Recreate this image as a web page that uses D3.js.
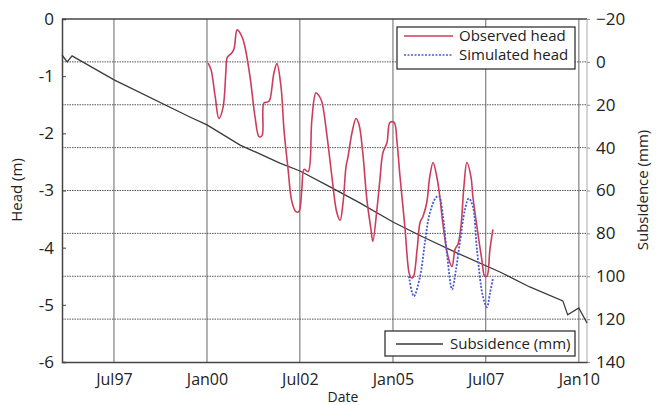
<!DOCTYPE html>
<html>
<head>
<meta charset="utf-8">
<script src="https://cdn.jsdelivr.net/npm/d3@7/dist/d3.min.js"></script>
<style>
  html, body { margin: 0; padding: 0; background: #fff; }
  svg { display: block; font-family: "Open Sans", "Noto Sans", sans-serif; }
</style>
</head>
<body>
<svg id="chart" width="661" height="405"></svg>
<script>
// Observed groundwater head (decimal year, metres)
const obsYears = [2000.03, 2000.11, 2000.22, 2000.32, 2000.43, 2000.51, 2000.54, 2000.67, 2000.73, 2000.81,
  2000.94, 2001.02, 2001.16, 2001.29, 2001.40, 2001.48, 2001.53, 2001.64, 2001.69, 2001.80,
  2001.88, 2001.99, 2002.07, 2002.18, 2002.28, 2002.39, 2002.47, 2002.55, 2002.61, 2002.72,
  2002.82, 2002.93, 2003.01, 2003.09, 2003.23, 2003.36, 2003.49, 2003.58, 2003.66, 2003.74,
  2003.79, 2003.90, 2004.01, 2004.09, 2004.19, 2004.30, 2004.41, 2004.46, 2004.57, 2004.65,
  2004.73, 2004.84, 2004.92, 2005.03, 2005.11, 2005.19, 2005.32, 2005.43, 2005.48, 2005.54,
  2005.65, 2005.73, 2005.81, 2005.91, 2005.99, 2006.08, 2006.18, 2006.26, 2006.34, 2006.48,
  2006.59, 2006.67, 2006.75, 2006.83, 2006.91, 2006.99, 2007.10, 2007.15, 2007.26, 2007.39,
  2007.47, 2007.53, 2007.61, 2007.69];
const obsHead = [-0.77, -0.89, -1.36, -1.74, -1.55, -0.89, -0.68, -0.59, -0.51, -0.19,
  -0.31, -0.49, -1.03, -1.71, -2.06, -2.04, -1.47, -1.45, -1.41, -0.94,
  -0.78, -1.19, -1.94, -2.63, -3.19, -3.37, -3.37, -2.98, -2.63, -2.67,
  -1.76, -1.29, -1.34, -1.45, -2.06, -2.76, -3.38, -3.52, -3.21, -2.58,
  -2.42, -1.99, -1.74, -1.85, -2.34, -3.16, -3.68, -3.89, -3.33, -2.81,
  -2.34, -2.16, -1.81, -1.81, -2.16, -2.76, -3.63, -4.43, -4.52, -4.52,
  -4.03, -3.56, -3.45, -3.21, -2.76, -2.51, -2.76, -3.10, -3.56, -4.15,
  -4.33, -4.03, -3.94, -3.63, -2.93, -2.51, -2.76, -3.10, -3.63, -4.20,
  -4.50, -4.50, -4.03, -3.68];

// Simulated head (decimal year, metres)
const simYears = [2005.43, 2005.56, 2005.73, 2005.86, 2005.99, 2006.16, 2006.24, 2006.34, 2006.45, 2006.59,
  2006.69, 2006.80, 2006.94, 2007.04, 2007.15, 2007.26, 2007.42, 2007.53, 2007.61, 2007.69];
const simHead = [-4.50, -4.85, -4.50, -3.91, -3.40, -3.12, -3.10, -3.42, -4.08, -4.73,
  -4.41, -3.91, -3.33, -3.14, -3.28, -4.03, -4.85, -5.04, -4.80, -4.54];

// Cumulative subsidence (decimal year, millimetres)
const subYears = [1996.10, 1996.24, 1996.37, 1997.50, 1999.54, 2000.00, 2000.89, 2001.96, 2002.50, 2003.31,
  2004.11, 2005.00, 2005.81, 2006.72, 2007.88, 2008.68, 2009.57, 2009.70, 2010.00, 2010.22];
const subMm = [-3.2, 0.0, -2.8, 8.4, 25.7, 29.4, 38.8, 47.2, 50.9, 58.3,
  65.8, 74.7, 81.7, 89.1, 98.0, 105.0, 111.5, 118.0, 114.8, 121.8];

// Axis ticks
const dateTicks = ["1997-07-01", "2000-01-01", "2002-07-01", "2005-01-01", "2007-07-01", "2010-01-01"];
const dateTickLabels = ["Jul97", "Jan00", "Jul02", "Jan05", "Jul07", "Jan10"];
const headTicks = [0, -1, -2, -3, -4, -5, -6];
const subTicks = [-20, 0, 20, 40, 60, 80, 100, 120, 140];

function toDate(y) {
  const yr = Math.floor(y);
  const start = new Date(yr, 0, 1).getTime();
  const end = new Date(yr + 1, 0, 1).getTime();
  return new Date(start + (y - yr) * (end - start));
}
function parseDay(s) {
  const p = s.split("-").map(Number);
  return new Date(p[0], p[1] - 1, p[2]);
}

const svg = d3.select("#chart");
const plotL = 62, plotR = 587, plotT = 19, plotB = 362;

const x = d3.scaleTime().domain([toDate(1996.10), toDate(2010.22)]).range([plotL, plotR]);
const yHead = d3.scaleLinear().domain([0, -6]).range([plotT, plotB]);
const ySub = d3.scaleLinear().domain([-20, 140]).range([plotT, plotB]);

// Vertical grid lines at date ticks
svg.append("g").selectAll("line").data(dateTicks).join("line")
  .attr("x1", d => x(parseDay(d))).attr("x2", d => x(parseDay(d)))
  .attr("y1", plotT).attr("y2", plotB)
  .attr("stroke", "#8a8a8a").attr("stroke-width", 1.3);

// Horizontal dotted grid lines at subsidence ticks
svg.append("g").selectAll("line").data(subTicks.filter(t => t > -20 && t < 140)).join("line")
  .attr("x1", plotL).attr("x2", plotR)
  .attr("y1", d => ySub(d)).attr("y2", d => ySub(d))
  .attr("stroke", "#555").attr("stroke-width", 1).attr("stroke-dasharray", "1.5,1");

// Frame
svg.append("line").attr("x1", plotL).attr("x2", plotR).attr("y1", plotT).attr("y2", plotT)
  .attr("stroke", "#444").attr("stroke-width", 1.3);
svg.append("line").attr("x1", plotR).attr("x2", plotR).attr("y1", plotT).attr("y2", plotB)
  .attr("stroke", "#aaa").attr("stroke-width", 1);

// Left axis (head)
const gL = svg.append("g").attr("transform", `translate(${plotL},0)`)
  .call(d3.axisLeft(yHead).tickValues(headTicks).tickSize(-4).tickPadding(8).tickFormat(d3.format("d")));
gL.select(".domain").attr("stroke", "#444").attr("stroke-width", 1.5);
gL.selectAll(".tick line").attr("stroke", "#444");
gL.selectAll("text").attr("font-size", 17).attr("fill", "#222")
  .attr("font-family", "'Open Sans', sans-serif").text(d => d === 0 ? "0" : String(d));

// Right axis (subsidence)
const gR = svg.append("g").attr("transform", `translate(${plotR},0)`)
  .call(d3.axisRight(ySub).tickValues(subTicks).tickSize(3).tickPadding(6));
gR.select(".domain").remove();
gR.selectAll(".tick line").attr("stroke", "#999");
gR.selectAll("text").attr("font-size", 17).attr("fill", "#222")
  .attr("font-family", "'Open Sans', sans-serif");

// Bottom axis (date)
const gB = svg.append("g").attr("transform", `translate(0,${plotB})`)
  .call(d3.axisBottom(x).tickValues(dateTicks.map(parseDay)).tickSize(0).tickPadding(12)
    .tickFormat((d, i) => dateTickLabels[i]));
gB.select(".domain").attr("stroke", "#444").attr("stroke-width", 1.5);
gB.selectAll("text").attr("font-size", 16).attr("fill", "#222")
  .attr("font-family", "'Open Sans', sans-serif");

// Subsidence line
const subLine = d3.line().x((d, i) => x(toDate(subYears[i]))).y(d => ySub(d));
svg.append("path").datum(subMm).attr("d", subLine)
  .attr("fill", "none").attr("stroke", "#3a3a3a").attr("stroke-width", 1.3);

// Observed head
const obsLine = d3.line().x((d, i) => x(toDate(obsYears[i]))).y(d => yHead(d)).curve(d3.curveCatmullRom);
svg.append("path").datum(obsHead).attr("d", obsLine)
  .attr("fill", "none").attr("stroke", "#cc3d5c").attr("stroke-width", 1.6);

// Simulated head
const simLine = d3.line().x((d, i) => x(toDate(simYears[i]))).y(d => yHead(d)).curve(d3.curveCatmullRom);
svg.append("path").datum(simHead).attr("d", simLine)
  .attr("fill", "none").attr("stroke", "#4a5ad0").attr("stroke-width", 1.8)
  .attr("stroke-dasharray", "2,1.5");

// Axis titles
svg.append("text").attr("transform", "translate(22,190) rotate(-90)")
  .attr("text-anchor", "middle").attr("font-size", 15).attr("fill", "#222").text("Head (m)");
svg.append("text").attr("transform", "translate(648,190) rotate(-90)")
  .attr("text-anchor", "middle").attr("font-size", 15).attr("fill", "#222").text("Subsidence (mm)");
svg.append("text").attr("x", 343).attr("y", 402)
  .attr("text-anchor", "middle").attr("font-size", 14).attr("fill", "#222").text("Date");

// Head legend
const lg1 = svg.append("g");
lg1.append("rect").attr("x", 397).attr("y", 27).attr("width", 178).attr("height", 42)
  .attr("fill", "#fff").attr("stroke", "#333").attr("stroke-width", 1.3);
lg1.append("line").attr("x1", 404).attr("x2", 453).attr("y1", 36).attr("y2", 36)
  .attr("stroke", "#cc3d5c").attr("stroke-width", 1.3);
lg1.append("text").attr("x", 459).attr("y", 41).attr("font-size", 15).attr("fill", "#222").text("Observed head");
lg1.append("line").attr("x1", 404).attr("x2", 453).attr("y1", 55).attr("y2", 55)
  .attr("stroke", "#4a5ad0").attr("stroke-width", 1.6).attr("stroke-dasharray", "2,1.5");
lg1.append("text").attr("x", 459).attr("y", 60).attr("font-size", 15).attr("fill", "#222").text("Simulated head");

// Subsidence legend
const lg2 = svg.append("g");
lg2.append("rect").attr("x", 385).attr("y", 331).attr("width", 190).attr("height", 25)
  .attr("fill", "#fff").attr("stroke", "#333").attr("stroke-width", 1.3);
lg2.append("line").attr("x1", 396).attr("x2", 443).attr("y1", 344).attr("y2", 344)
  .attr("stroke", "#3a3a3a").attr("stroke-width", 1.3);
lg2.append("text").attr("x", 450).attr("y", 349).attr("font-size", 15).attr("fill", "#222").text("Subsidence (mm)");
</script>
</body>
</html>
